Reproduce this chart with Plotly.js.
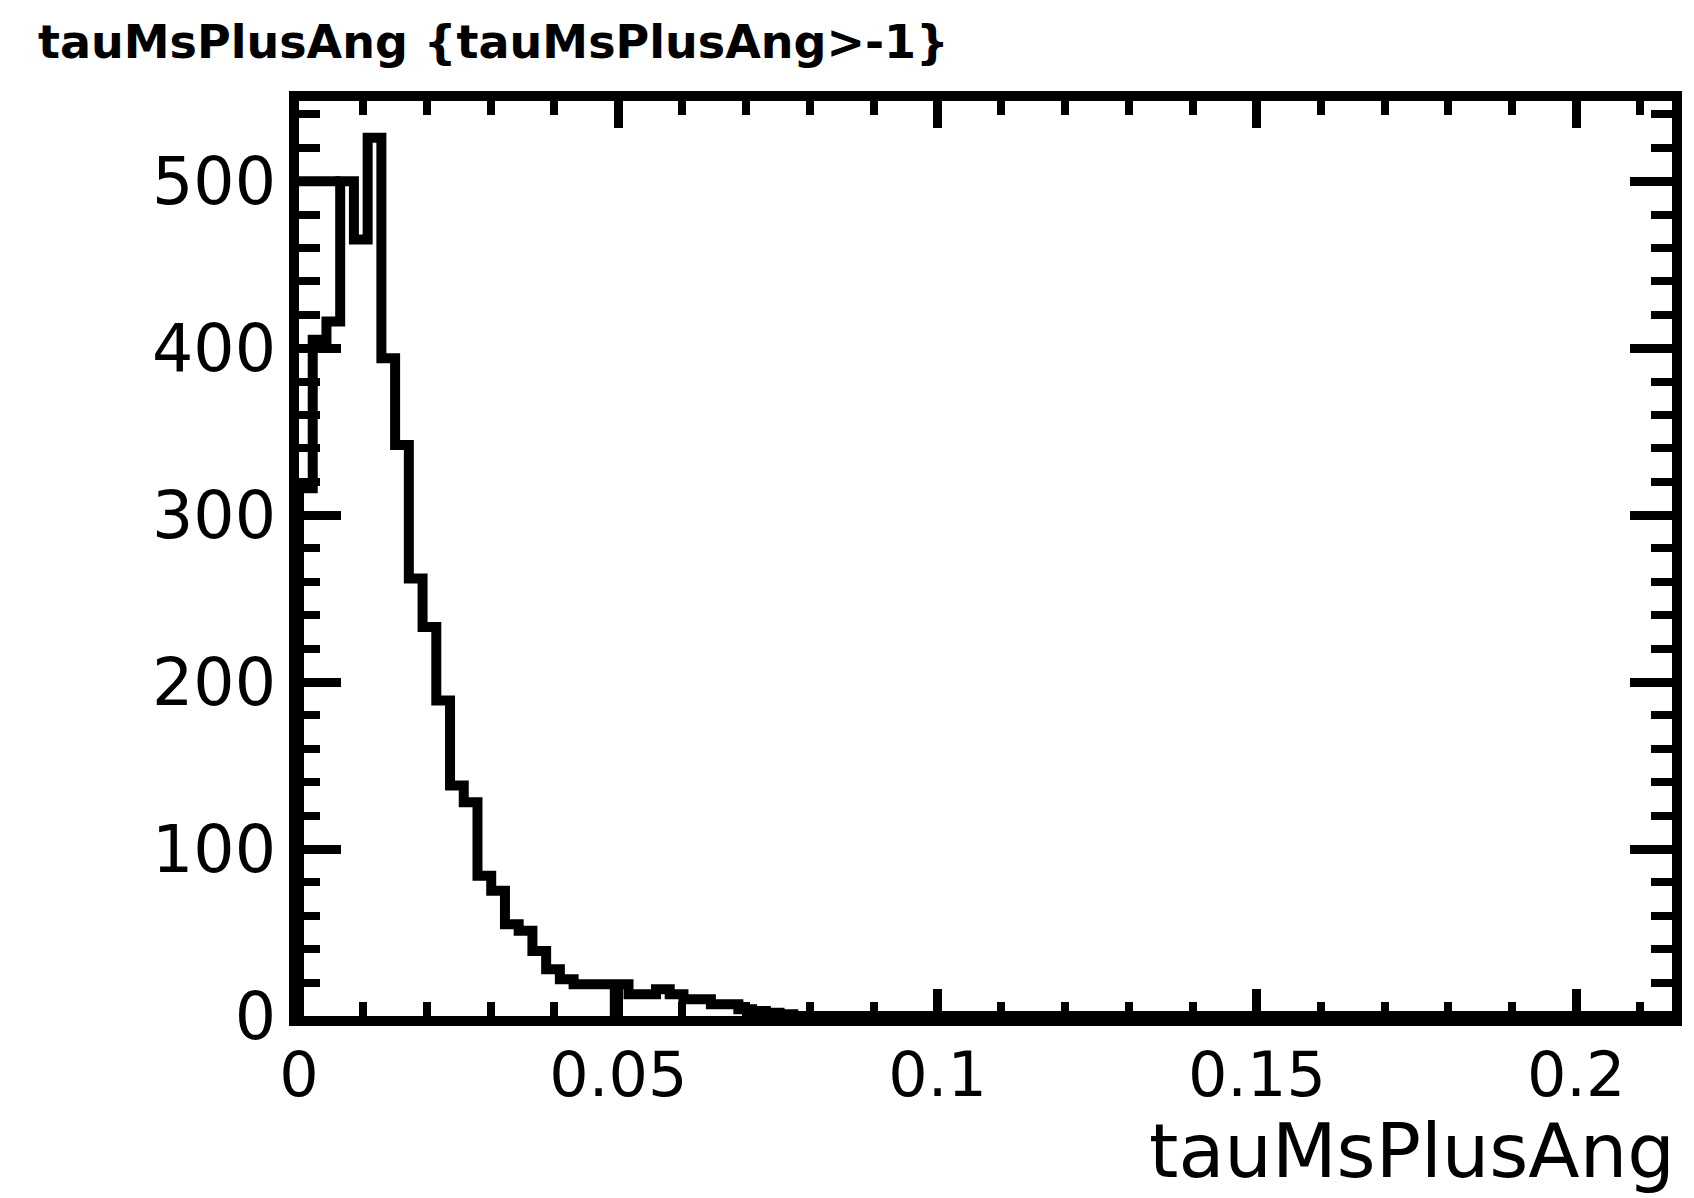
<!DOCTYPE html>
<html>
<head>
<meta charset="utf-8">
<script src="https://cdn.plot.ly/plotly-3.0.1.min.js"></script>
<style>
html,body{margin:0;padding:0;background:#fff;}
#chart{width:1694px;height:1198px;}
</style>
</head>
<body>
<div id="chart"></div>
<script>
// Histogram definition: 100 bins from 0 to 0.215
const binLow = 0;
const binWidth = 0.00215;
const nBins = 100;
// bin contents (bins 1..100)
const counts = [
  316, 405, 416, 500, 465, 526, 394, 342, 262, 233,
  189, 138, 128, 84, 75, 55, 51, 39, 28, 22,
  19, 19, 19, 19, 13, 13, 16, 13, 10, 10,
  7, 7, 4, 3, 2, 1, 0, 0, 0, 0,
  0, 0, 0, 0, 0, 0, 0, 0, 0, 0,
  0, 0, 0, 0, 0, 0, 0, 0, 0, 0,
  0, 0, 0, 0, 0, 0, 0, 0, 0, 0,
  0, 0, 0, 0, 0, 0, 0, 0, 0, 0,
  0, 0, 0, 0, 0, 0, 0, 0, 0, 0,
  0, 0, 0, 0, 0, 0, 0, 0, 0, 0
];
// extra outline pieces visible in the picture
const extraX = [0, 0.00645, null, 0.04945, 0.04945];
const extraY = [500, 500, null, 19, 0];

const xTickVals = [0, 0.05, 0.1, 0.15, 0.2];
const xTickText = ["0", "0.05", "0.1", "0.15", "0.2"];
const yTickVals = [0, 100, 200, 300, 400, 500];
const yTickText = ["0", "100", "200", "300", "400", "500"];

const titleText = "tauMsPlusAng {tauMsPlusAng>-1}";
const xTitleText = "tauMsPlusAng";

// build step outline from the bins
const edges = [];
for (let i = 0; i <= nBins; i++) edges.push(binLow + i * binWidth);
const stepX = [edges[0]];
const stepY = [0];
for (let i = 0; i < nBins; i++) { stepX.push(edges[i]); stepY.push(counts[i]); }
stepX.push(edges[nBins]); stepY.push(counts[nBins - 1]);
stepX.push(edges[nBins]); stepY.push(0);

const FONT = "DejaVu Sans";
const W = 1694, H = 1198;
const M = {l: 299, r: 22, t: 101, b: 182};
const plotH = H - M.t - M.b;

const traces = [
  {x: stepX, y: stepY, type: "scatter", mode: "lines",
   line: {shape: "hv", color: "#000", width: 10}, hoverinfo: "skip"},
  {x: extraX, y: extraY, type: "scatter", mode: "lines",
   line: {color: "#000", width: 10}, hoverinfo: "skip", connectgaps: false}
];

const layout = {
  width: W, height: H,
  paper_bgcolor: "#fff", plot_bgcolor: "#fff",
  showlegend: false,
  margin: {l: M.l, r: M.r, t: M.t, b: M.b, pad: 0},
  title: {text: titleText, x: 38/W, xanchor: "left", xref: "container",
          y: 1 - 42/H, yanchor: "middle", yref: "container",
          font: {family: FONT, size: 46, color: "#000", weight: "bold"}},
  xaxis: {range: [0, 0.215], tickvals: xTickVals, ticktext: xTickText,
          ticks: "inside", ticklen: 27, tickwidth: 9, tickcolor: "#000",
          showline: true, linewidth: 10, linecolor: "#000", mirror: "allticks",
          showgrid: false, zeroline: false, ticklabelstandoff: -4,
          tickfont: {family: FONT, size: 62, color: "#000"},
          minor: {dtick: 0.01, tick0: 0, ticks: "inside", ticklen: 14, tickwidth: 8, tickcolor: "#000", showgrid: false}},
  yaxis: {range: [0, 548], tickvals: yTickVals, ticktext: yTickText,
          ticks: "inside", ticklen: 42, tickwidth: 9, tickcolor: "#000",
          showline: true, linewidth: 10, linecolor: "#000", mirror: "allticks",
          showgrid: false, zeroline: false,
          tickfont: {family: FONT, size: 65, color: "#000"},
          minor: {dtick: 20, tick0: 0, ticks: "inside", ticklen: 21, tickwidth: 8, tickcolor: "#000", showgrid: false}},
  annotations: [{text: xTitleText, xref: "paper", yref: "paper",
                 x: 1 + 5/(W - M.l - M.r), y: -(H - 1 - (H - M.b)) / plotH,
                 xanchor: "right", yanchor: "bottom", showarrow: false,
                 font: {family: FONT, size: 75, color: "#000"}}]
};

Plotly.newPlot("chart", traces, layout, {staticPlot: true, displayModeBar: false});
</script>
</body>
</html>
